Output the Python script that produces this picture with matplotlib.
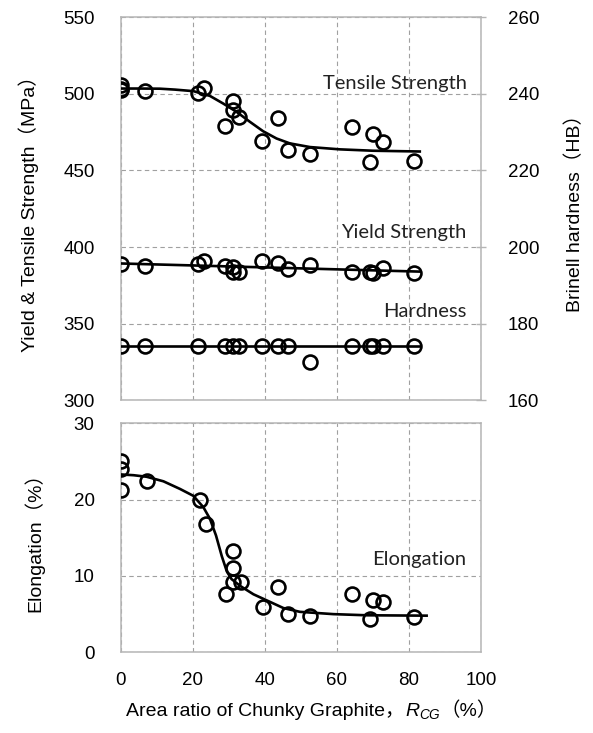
import matplotlib
matplotlib.use("Agg")
import matplotlib.pyplot as plt

# ---------------- data ----------------
ts_x = [0, 0, 0, 6.7, 21.5, 23.1, 28.9, 31.0, 31.2, 32.9, 39.1, 43.7, 46.5, 52.5, 64.1, 69.2, 70.1, 72.7, 81.5]
ts_y = [505.5, 503.5, 502.5, 501.8, 500.9, 503.9, 479.2, 495.2, 489.8, 484.6, 469.4, 484.4, 463.3, 460.8, 478.1, 455.7, 473.7, 468.7, 456.4]
ts_curve_x = [0, 5, 10.8, 15, 20.1, 24.7, 28.4, 32.1, 35.8, 39.5, 43.2, 46.9, 52.5, 60.8, 70, 83]
ts_curve_y = [503.5, 503.5, 503.4, 502.8, 501.8, 498.7, 493.7, 488.3, 481.8, 475.6, 470.9, 467.7, 465.3, 463.8, 462.9, 462.4]

ys_x = [0, 6.7, 21.5, 23.1, 28.9, 31.0, 31.2, 32.9, 39.1, 43.7, 46.5, 52.5, 64.1, 69.2, 70.1, 72.7, 81.5]
ys_y = [389.1, 387.4, 389.1, 391.2, 387.5, 386.8, 383.6, 384.0, 390.7, 389.4, 385.8, 388.0, 384.0, 384.0, 383.2, 386.2, 383.2]
ys_line_x = [0, 83]
ys_line_y = [389.3, 384.0]

hb_x = [0, 6.7, 21.5, 28.9, 31.0, 32.9, 39.1, 43.7, 46.5, 52.5, 64.1, 69.2, 70.1, 72.7, 81.5]
hb_y = [174.2, 174.2, 174.2, 174.2, 174.2, 174.2, 174.2, 174.2, 174.2, 170.1, 174.2, 174.2, 174.2, 174.2, 174.2]
hb_line_x = [0, 83]
hb_line_y = [174.2, 174.2]

el_x = [0, 0, 0, 7.1, 21.9, 23.6, 31.2, 31.2, 31.0, 33.3, 29.2, 39.4, 43.7, 46.5, 52.5, 64.1, 70.1, 72.7, 69.2, 81.5]
el_y = [25.0, 24.0, 21.3, 22.5, 19.9, 16.8, 13.3, 11.1, 9.2, 9.2, 7.7, 5.9, 8.6, 5.0, 4.7, 7.7, 6.8, 6.6, 4.4, 4.6]
el_curve_x = [0, 3.5, 7.1, 11.8, 16.4, 20.1, 22.9, 24.7, 26.4, 28.0, 29.4, 30.7, 33.1, 36.8, 40.5, 45.1, 49.7, 59.0, 68.2, 84.9]
el_curve_y = [23.3, 23.2, 23.0, 22.4, 21.4, 20.5, 19.0, 17.5, 15.3, 12.6, 10.6, 9.6, 8.7, 7.6, 6.8, 5.8, 5.3, 5.0, 4.85, 4.8]

x_ticks = [0, 20, 40, 60, 80, 100]
mpa_ticks = [300, 350, 400, 450, 500, 550]
hb_ticks = [160, 180, 200, 220, 240, 260]
el_ticks = [0, 10, 20, 30]

# ---------------- style ----------------
plt.rcParams['font.family'] = ['Liberation Sans', 'Noto Sans CJK JP', 'DejaVu Sans']
plt.rcParams['mathtext.fontset'] = 'custom'
plt.rcParams['mathtext.rm'] = 'Liberation Sans'
plt.rcParams['mathtext.it'] = 'Liberation Sans:italic'
SPINE = '#b5b5b5'
GRID = '#a0a0a0'
TICKFS = 13.5
LABFS = 14
ANNFS = 14.5
ANNFAM = ['Lato', 'DejaVu Sans']
mk = dict(marker='o', linestyle='none', markersize=10, markerfacecolor='none',
          markeredgecolor='black', markeredgewidth=1.9, zorder=4)
ln = dict(color='black', linewidth=1.9, zorder=3)

fig = plt.figure(figsize=(5.93, 7.33), dpi=100)
ax1 = fig.add_axes([0.2040, 0.4539, 0.6071, 0.5225])
ax2 = fig.add_axes([0.2040, 0.1101, 0.6071, 0.3124])


def style(ax):
    for s in ax.spines.values():
        s.set_color(SPINE)
        s.set_linewidth(1.1)
    ax.grid(True, color=GRID, linestyle=(0, (4, 3)), linewidth=0.8)
    ax.set_axisbelow(True)
    ax.tick_params(length=0, labelsize=TICKFS, pad=19)
    ax.set_xlim(0, 100)
    ax.set_xticks(x_ticks)


# top panel
style(ax1)
ax1.set_ylim(300, 550)
ax1.set_yticks(mpa_ticks)
ax1.tick_params(axis='x', labelbottom=False)
ax1.plot(ts_curve_x, ts_curve_y, **ln)
ax1.plot(ts_x, ts_y, **mk)
ax1.plot(ys_line_x, ys_line_y, **ln)
ax1.plot(ys_x, ys_y, **mk)
ax1.set_ylabel('Yield & Tensile Strength（MPa）', fontsize=LABFS, labelpad=17)

axr = ax1.twinx()
axr.set_ylim(160, 260)
axr.set_yticks(hb_ticks)
for s in axr.spines.values():
    s.set_visible(False)
axr.tick_params(axis='y', direction='inout', length=7, color=SPINE, width=1.0,
                labelsize=TICKFS, pad=16)
axr.plot(hb_line_x, hb_line_y, **ln)
axr.plot(hb_x, hb_y, **mk)
axr.set_ylabel('Brinell hardness（HB）', fontsize=LABFS, labelpad=19)

ax1.text(96, 507, 'Tensile Strength', ha='right', va='center', fontsize=ANNFS,
         family=ANNFAM, color='#222222')
ax1.text(96, 409.6, 'Yield Strength', ha='right', va='center', fontsize=ANNFS,
         family=ANNFAM, color='#222222')
ax1.text(96, 357.8, 'Hardness', ha='right', va='center', fontsize=ANNFS,
         family=ANNFAM, color='#222222')

# bottom panel
style(ax2)
ax2.set_ylim(0, 30)
ax2.set_yticks(el_ticks)
ax2.tick_params(axis='x', pad=14)
ax2.plot(el_curve_x, el_curve_y, **ln)
ax2.plot(el_x, el_y, **mk)
ax2.set_ylabel('Elongation（%）', fontsize=LABFS, labelpad=21)
ax2.text(96, 12.2, 'Elongation', ha='right', va='center', fontsize=ANNFS,
         family=ANNFAM, color='#222222')

# x label composed of plain text + math subscript + full-width bracket text
W, H = fig.get_size_inches() * fig.dpi
base_y = 1 - 716 / H
parts = [fig.text(0, base_y, 'Area ratio of Chunky Graphite，', fontsize=LABFS, va='baseline'),
         fig.text(0, base_y, '$R_{CG}$', fontsize=LABFS, va='baseline'),
         fig.text(0, base_y, '（%）', fontsize=LABFS, va='baseline')]
fig.canvas.draw()
r = fig.canvas.get_renderer()
widths = [p.get_window_extent(r).width for p in parts]
x = 311.5 - sum(widths) / 2
for p, w in zip(parts, widths):
    p.set_x(x / W)
    x += w

fig.savefig('out.png', dpi=100)
